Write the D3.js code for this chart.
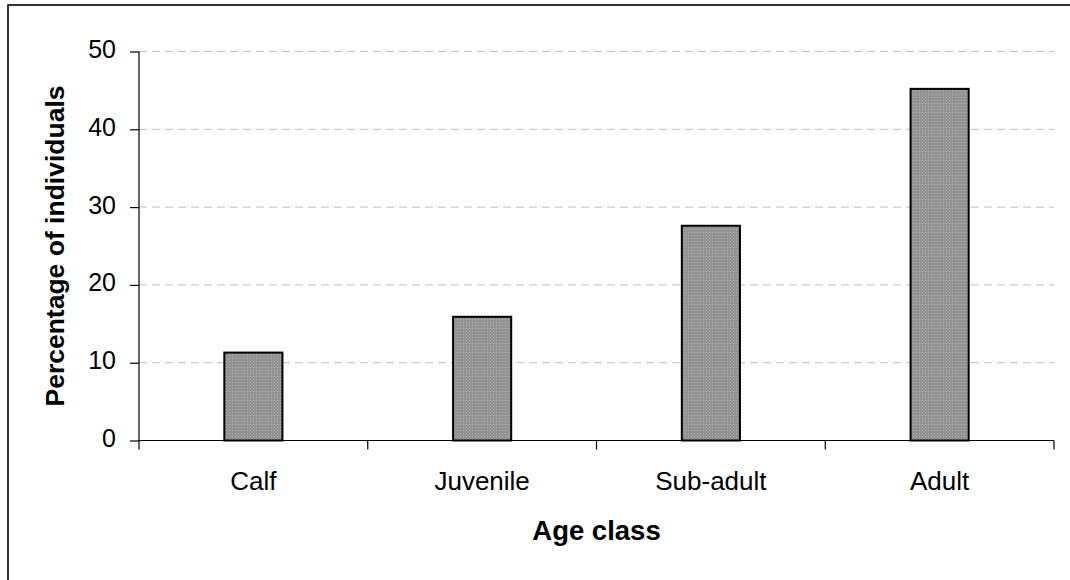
<!DOCTYPE html>
<html>
<head>
<meta charset="utf-8">
<script src="https://cdn.jsdelivr.net/npm/d3@7"></script>
<style>
  html, body { margin: 0; padding: 0; background: #fff; }
  svg { display: block; }
  text { font-family: "Liberation Sans", Arial, sans-serif; fill: #000; }
</style>
</head>
<body>
<svg id="chart" width="1070" height="580"></svg>
<script>
// Age-class composition (percentage of individuals)
const categories = ["Calf", "Juvenile", "Sub-adult", "Adult"];
const percentages = [11.3, 15.9, 27.6, 45.2];
const yTicks = [0, 10, 20, 30, 40, 50];
const xTitle = "Age class";
const yTitle = "Percentage of individuals";

const svg = d3.select("#chart");
const W = 1070, H = 580;
const plot = { left: 139, right: 1054, top: 51.5, bottom: 440.5 };

svg.append("rect").attr("width", W).attr("height", H).attr("fill", "#fff");

// outer frame (runs past the visible area on the right and bottom)
svg.append("rect")
  .attr("x", 8).attr("y", 5)
  .attr("width", W + 20).attr("height", H + 20)
  .attr("fill", "none").attr("stroke", "#000").attr("stroke-width", 1.6);

// dotted grey fill for the bars
const defs = svg.append("defs");
const pat = defs.append("pattern")
  .attr("id", "dots").attr("patternUnits", "userSpaceOnUse")
  .attr("width", 3).attr("height", 3);
pat.append("rect").attr("width", 3).attr("height", 3).attr("fill", "#939393");
pat.append("rect").attr("x", 1).attr("y", 1).attr("width", 1).attr("height", 1).attr("fill", "#afafaf");

const x = d3.scaleBand()
  .domain(categories)
  .range([plot.left, plot.right])
  .paddingInner(0.746)
  .paddingOuter(0.373);

const y = d3.scaleLinear()
  .domain([0, 50])
  .range([plot.bottom, plot.top]);

// dashed horizontal gridlines
svg.append("g")
  .selectAll("line")
  .data(yTicks.filter(d => d > 0))
  .join("line")
  .attr("x1", plot.left).attr("x2", plot.right)
  .attr("y1", d => y(d)).attr("y2", d => y(d))
  .attr("stroke", "#c0c0c0").attr("stroke-width", 1)
  .attr("stroke-dasharray", "8,5");

// bars
svg.append("g")
  .selectAll("rect")
  .data(categories.map((c, i) => ({ c, v: percentages[i] })))
  .join("rect")
  .attr("x", d => x(d.c))
  .attr("y", d => y(d.v))
  .attr("width", x.bandwidth())
  .attr("height", d => y(0) - y(d.v))
  .attr("fill", "url(#dots)")
  .attr("stroke", "#000").attr("stroke-width", 2);

// y axis
const yAxis = svg.append("g")
  .attr("transform", `translate(${plot.left},0)`)
  .call(d3.axisLeft(y).tickValues(yTicks).tickSize(9).tickPadding(14).tickSizeOuter(0));
yAxis.select(".domain").attr("stroke", "#000").attr("stroke-width", 1.2)
  .attr("d", `M0,${plot.top}V${plot.bottom + 9}`);
yAxis.selectAll(".tick line").attr("stroke", "#000").attr("stroke-width", 1.2);
yAxis.selectAll(".tick text")
  .attr("font-size", 25)
  .attr("font-family", "'Liberation Sans', Arial, sans-serif")
  .attr("fill", "#000")
  .attr("dy", "0.24em");

// x axis: category labels at band centres, ticks at band boundaries
const xAxis = svg.append("g")
  .attr("transform", `translate(0,${plot.bottom})`)
  .call(d3.axisBottom(x).tickSize(0).tickPadding(31).tickSizeOuter(0));
xAxis.select(".domain").attr("stroke", "#000").attr("stroke-width", 1.2)
  .attr("d", `M${plot.left},0H${plot.right}`);
xAxis.selectAll(".tick text")
  .attr("font-size", 26)
  .attr("font-family", "'Liberation Sans', Arial, sans-serif")
  .attr("fill", "#000");

const boundaries = d3.range(1, categories.length + 1).map(i => plot.left + i * x.step());
xAxis.append("g")
  .selectAll("line")
  .data(boundaries)
  .join("line")
  .attr("x1", d => d).attr("x2", d => d)
  .attr("y1", 0).attr("y2", 9)
  .attr("stroke", "#000").attr("stroke-width", 1.2);

// axis titles
svg.append("text")
  .attr("x", (plot.left + plot.right) / 2)
  .attr("y", 540)
  .attr("text-anchor", "middle")
  .attr("font-size", 27.5)
  .attr("font-weight", "bold")
  .text(xTitle);

svg.append("text")
  .attr("transform", `translate(64,${(plot.top + plot.bottom) / 2}) rotate(-90)`)
  .attr("text-anchor", "middle")
  .attr("font-size", 26.5)
  .attr("font-weight", "bold")
  .text(yTitle);
</script>
</body>
</html>
